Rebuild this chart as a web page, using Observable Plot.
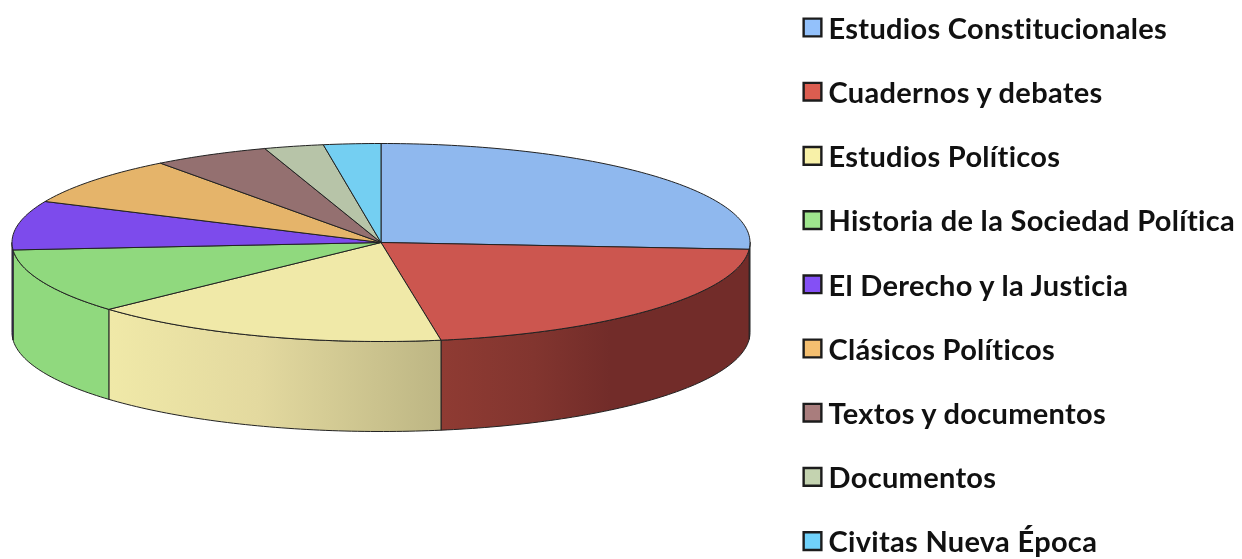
<!DOCTYPE html>
<html><head><meta charset="utf-8">
<script src="https://cdn.jsdelivr.net/npm/d3@7"></script>
<script src="https://cdn.jsdelivr.net/npm/@observablehq/plot@0.6"></script>
<style>html,body{margin:0;padding:0;background:#fff;overflow:hidden}svg{display:block;filter:blur(.7px)}</style>
</head><body><div id="chart"></div>
<script>
const categories = ["Estudios Constitucionales","Cuadernos y debates","Estudios Políticos","Historia de la Sociedad Política","El Derecho y la Justicia","Clásicos Políticos","Textos y documentos","Documentos","Civitas Nueva Época"];
const shares = [26.1,21.3,15.8,10.6,8.0,8.0,5.1,2.6,2.5];
const topColors = ["#8fb8ee","#cc564f","#f0e9a8","#90d97e","#7d4bec","#e5b46a","#947070","#b7c4a8","#74cff2"];
const swatchColors = ["#93c1fb","#dc5d50","#f8f1a8","#9fe58d","#8450f5","#f4bf70","#a97d7d","#c4d3b0","#70d2fb"];

const W = 1242, H = 559, cx = 380.5, cy = 242, rx = 369, ry = 99, depth = 90;
const px = t => cx + rx * Math.sin(t * Math.PI / 180);
const py = t => cy - ry * Math.cos(t * Math.PI / 180);
const total = d3.sum(shares);
let acc = 0;
const slices = categories.map((name, i) => {
  const a0 = acc / total * 360; acc += shares[i];
  return {name, i, a0, a1: acc / total * 360};
});
const arcAngles = (a, b) => { const n = Math.max(2, Math.ceil(b - a)); return d3.range(n + 1).map(k => a + (b - a) * k / n); };

const tops = slices.flatMap(s => {
  const pts = arcAngles(s.a0, s.a1).map(t => ({name: s.name, x: px(t), y: py(t)}));
  return [{name: s.name, x: cx, y: cy}, ...pts, {name: s.name, x: cx, y: cy}];
});
const walls = slices.flatMap(s => {
  const a = Math.max(s.a0, 90), b = Math.min(s.a1, 270);
  if (b <= a) return [];
  const as = arcAngles(a, b);
  const upper = as.map(t => ({name: s.name, i: s.i, x: px(t), y: py(t)}));
  const lower = as.slice().reverse().map(t => ({name: s.name, i: s.i, x: px(t), y: py(t) + depth}));
  return [...upper, ...lower, upper[0]];
});
const wallFill = ["#6f7f96", "url(#wallRed)", "url(#wallYellow)", "#90d97e", "#5a37aa"];
const legend = categories.map((name, i) => ({name, color: swatchColors[i], y: 27 + i * 64.2}));

const wallMarks = d3.groups(walls, d => d.i).map(([i, rows]) =>
  Plot.line(rows, {x: "x", y: "y", fill: wallFill[i], stroke: "#222", strokeWidth: 1, curve: "linear"}));

const chart = Plot.plot({
  width: W, height: H, margin: 0,
  style: {background: "#fff", letterSpacing: "0.3px"},
  x: {domain: [0, W], range: [0, W], axis: null},
  y: {domain: [0, H], range: [0, H], axis: null},
  color: {domain: categories, range: topColors},
  marks: [
    ...wallMarks,
    Plot.line(tops, {x: "x", y: "y", z: "name", fill: "name", stroke: "#222", strokeWidth: 1, curve: "linear"}),
    Plot.dot(legend, {x: () => 812, y: "y", symbol: "square", r: 10, fill: "color", stroke: "#1c1c1c", strokeWidth: 2.4}),
    Plot.text(legend, {x: () => 828, y: d => d.y + 2, text: "name", textAnchor: "start", fontFamily: "Lato", fontWeight: 700, fontSize: 29, fill: "#111"})
  ]
});
const defs = d3.select(chart).insert("defs", ":first-child");
const grad = (id, stops) => {
  const g = defs.append("linearGradient").attr("id", id);
  stops.forEach(([o, c]) => g.append("stop").attr("offset", o).attr("stop-color", c));
};
grad("wallRed", [[0, "#8f3b33"], [0.3, "#82352f"], [0.55, "#722c29"], [1, "#722c29"]]);
grad("wallYellow", [[0, "#f0e9a8"], [0.45, "#e3d99f"], [1, "#bdb684"]]);
document.getElementById("chart").append(chart);
</script></body></html>
